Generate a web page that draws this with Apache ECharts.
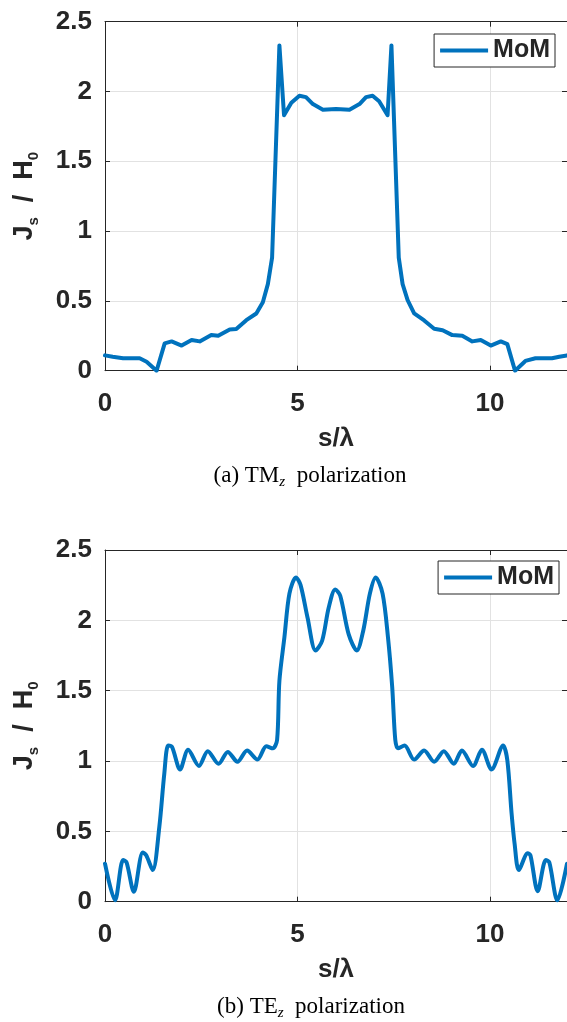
<!DOCTYPE html>
<html>
<head>
<meta charset="utf-8">
<script src="https://cdn.jsdelivr.net/npm/echarts@6/dist/echarts.min.js"></script>
<style>
html,body{margin:0;padding:0;background:#fff;}
#chart{width:567px;height:1022px;}
</style>
</head>
<body>
<div id="chart"></div>
<script>
// ---- Data ----
// (a) TMz polarization
const sTM = [0, 0.2, 0.47, 0.9, 1.08, 1.34, 1.55, 1.73, 1.99, 2.25, 2.46, 2.76, 2.94, 3.24, 3.41, 3.67, 3.93, 4.1, 4.23, 4.34, 4.53, 4.65, 4.84, 5.05, 5.22, 5.4, 5.66, 6.0, 6.35, 6.61, 6.78, 6.95, 7.12, 7.34, 7.44, 7.63, 7.73, 7.86, 8.03, 8.29, 8.55, 8.77, 9.02, 9.28, 9.54, 9.76, 10.02, 10.28, 10.45, 10.65, 10.92, 11.18, 11.61, 11.8, 12];
const jTM = [0.11, 0.10, 0.089, 0.089, 0.064, 0.0, 0.196, 0.21, 0.18, 0.22, 0.21, 0.255, 0.25, 0.296, 0.298, 0.362, 0.41, 0.49, 0.62, 0.81, 2.33, 1.83, 1.92, 1.97, 1.96, 1.91, 1.87, 1.875, 1.87, 1.91, 1.96, 1.97, 1.93, 1.83, 2.33, 0.81, 0.62, 0.505, 0.41, 0.36, 0.30, 0.29, 0.255, 0.25, 0.21, 0.22, 0.18, 0.21, 0.19, 0.0, 0.07, 0.089, 0.089, 0.10, 0.11];
// (b) TEz polarization
const sTE = [0, 0.26, 0.47, 0.56, 0.75, 0.98, 1.07, 1.24, 1.41, 1.54, 1.64, 1.74, 1.95, 2.16, 2.44, 2.67, 2.95, 3.19, 3.44, 3.69, 3.96, 4.19, 4.36, 4.47, 4.53, 4.66, 4.79, 4.96, 5.08, 5.26, 5.47, 5.64, 5.81, 5.98, 6.11, 6.33, 6.54, 6.71, 6.88, 7.03, 7.21, 7.35, 7.46, 7.54, 7.61, 7.78, 8.03, 8.29, 8.55, 8.8, 9.06, 9.27, 9.56, 9.79, 10.04, 10.34, 10.45, 10.56, 10.64, 10.75, 10.98, 11.05, 11.24, 11.45, 11.54, 11.75, 12];
const jTE = [0.27, 0.01, 0.296, 0.28, 0.07, 0.35, 0.33, 0.225, 0.53, 0.91, 1.11, 1.10, 0.94, 1.08, 0.965, 1.07, 0.98, 1.065, 0.995, 1.075, 1.01, 1.105, 1.09, 1.15, 1.57, 1.88, 2.19, 2.305, 2.25, 2.02, 1.785, 1.855, 2.09, 2.22, 2.175, 1.90, 1.785, 1.93, 2.19, 2.305, 2.19, 1.88, 1.525, 1.15, 1.09, 1.11, 1.01, 1.075, 0.995, 1.07, 0.98, 1.075, 0.965, 1.08, 0.94, 1.11, 1.005, 0.63, 0.41, 0.225, 0.345, 0.33, 0.075, 0.296, 0.28, 0.01, 0.27];
const seriesName = 'MoM';
const xTitle = 's/λ';
const captions = ['{n|(a) TM}{z|z}{n|  polarization}', '{n|(b) TE}{z|z}{n|  polarization}'];

// ---- Styling ----
const SANS = "'Liberation Sans', Arial, Helvetica, sans-serif";
const SERIF = "'Liberation Serif', 'Times New Roman', serif";
const AX = '#262626';
const BLUE = '#0072BD';

const grids = [
  {left: 105, top: 21.7, width: 463, height: 349},
  {left: 105, top: 550, width: 468, height: 351.7}
];

function xAxes(gi) {
  return [
    {
      gridIndex: gi, type: 'value', min: 0, max: 12, interval: 5, position: 'bottom',
      axisLine: {show: true, onZero: false, lineStyle: {color: AX, width: 1}},
      axisTick: {show: true, inside: true, length: 5, lineStyle: {color: AX}},
      axisLabel: {show: true, showMaxLabel: false, fontSize: 26, fontWeight: 'bold', color: AX, fontFamily: SANS, margin: 20},
      splitLine: {show: true, lineStyle: {color: '#e2e2e2', width: 1}},
      name: xTitle, nameLocation: 'middle', nameGap: 55,
      nameTextStyle: {fontSize: 26, fontWeight: 'bold', color: AX, fontFamily: SANS}
    },
    {
      gridIndex: gi, type: 'value', min: 0, max: 12, interval: 5, position: 'top',
      axisLine: {show: true, onZero: false, lineStyle: {color: AX, width: 1}},
      axisTick: {show: true, inside: true, length: 5, lineStyle: {color: AX}},
      axisLabel: {show: false}, splitLine: {show: false}
    }
  ];
}
function yAxes(gi) {
  return [
    {
      gridIndex: gi, type: 'value', min: 0, max: 2.5, interval: 0.5, position: 'left',
      axisLine: {show: true, onZero: false, lineStyle: {color: AX, width: 1}},
      axisTick: {show: true, inside: true, length: 5, lineStyle: {color: AX}},
      axisLabel: {show: true, fontSize: 26, fontWeight: 'bold', color: AX, fontFamily: SANS, margin: 13},
      splitLine: {show: true, lineStyle: {color: '#e2e2e2', width: 1}},
      name: '{b|J}{s|s}{b|  /  }{b|H}{s|0}', nameLocation: 'middle', nameRotate: 90, nameGap: 64,
      nameTextStyle: {
        color: AX, fontFamily: SANS, fontWeight: 'bold',
        rich: {
          b: {fontSize: 27, fontWeight: 'bold', color: AX, fontFamily: SANS, lineHeight: 32},
          s: {fontSize: 15, fontWeight: 'bold', color: AX, fontFamily: SANS, lineHeight: 20, verticalAlign: 'bottom'}
        }
      }
    },
    {
      gridIndex: gi, type: 'value', min: 0, max: 2.5, interval: 0.5, position: 'right',
      axisLine: {show: true, onZero: false, lineStyle: {color: AX, width: 1}},
      axisTick: {show: true, inside: true, length: 5, lineStyle: {color: AX}},
      axisLabel: {show: false}, splitLine: {show: false}
    }
  ];
}

function legendAt(right, top) {
  return {
    data: [seriesName], right: right, top: top, orient: 'horizontal',
    icon: 'rect', itemWidth: 48, itemHeight: 4, itemGap: 0,
    padding: [4, 5, 4, 6], borderColor: AX, borderWidth: 1, borderRadius: 0,
    backgroundColor: '#ffffff', selectedMode: false,
    textStyle: {fontSize: 25, fontWeight: 'bold', color: AX, fontFamily: SANS, padding: [0, 0, 0, 0]}
  };
}

function lineSeries(xi, yi, xs, ys, smooth) {
  return {
    name: seriesName, type: 'line', xAxisIndex: xi, yAxisIndex: yi,
    data: xs.map((s, i) => [s, ys[i]]),
    showSymbol: false, symbol: 'none', smooth: smooth,
    lineStyle: {color: BLUE, width: 4, join: 'round', cap: 'round'},
    itemStyle: {color: BLUE}, clip: true, animation: false
  };
}

function caption(text, x, y) {
  return {
    type: 'text', x: x, y: y, silent: true,
    style: {
      text: text, textAlign: 'center', textVerticalAlign: 'middle',
      fill: '#000', fontFamily: SERIF, fontSize: 23,
      rich: {
        n: {fontSize: 23, fontFamily: SERIF, fill: '#000', lineHeight: 27},
        z: {fontSize: 15, fontFamily: SERIF, fontStyle: 'italic', fill: '#000', lineHeight: 12, verticalAlign: 'bottom'}
      }
    }
  };
}

const chart = echarts.init(document.getElementById('chart'), null, {renderer: 'canvas'});
chart.setOption({
  animation: false,
  backgroundColor: '#ffffff',
  grid: grids,
  xAxis: xAxes(0).concat(xAxes(1)),
  yAxis: yAxes(0).concat(yAxes(1)),
  legend: [legendAt(12, 34), legendAt(8, 561)],
  series: [
    lineSeries(0, 0, sTM, jTM, false),
    lineSeries(2, 2, sTE, jTE, 0.3)
  ],
  graphic: [
    caption(captions[0], 310, 476),
    caption(captions[1], 311, 1007)
  ]
});
</script>
</body>
</html>
